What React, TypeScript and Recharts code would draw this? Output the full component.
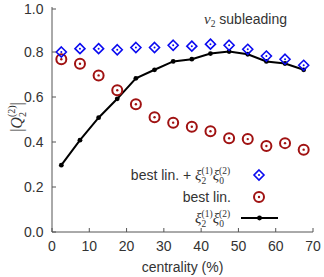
import React from 'react';
import { ComposedChart, Line, XAxis, YAxis, Customized } from 'recharts';

// centrality bins (%)
const centrality = [2.5, 7.5, 12.5, 17.5, 22.5, 27.5, 32.5, 37.5, 42.5, 47.5, 52.5, 57.5, 62.5, 67.5];
// best lin. + xi2(1) xi0(2)
const bestLinPlus = [0.8, 0.815, 0.815, 0.81, 0.82, 0.82, 0.83, 0.826, 0.835, 0.83, 0.812, 0.782, 0.768, 0.741];
// best lin.
const bestLin = [0.768, 0.748, 0.696, 0.63, 0.568, 0.51, 0.486, 0.468, 0.448, 0.417, 0.413, 0.382, 0.395, 0.366];
// xi2(1) xi0(2)
const xiProd = [0.297, 0.408, 0.508, 0.592, 0.683, 0.721, 0.758, 0.768, 0.793, 0.802, 0.79, 0.758, 0.749, 0.721];

const xTicks = [0, 10, 20, 30, 40, 50, 60, 70];
const yTicks = [0, 0.1, 0.2, 0.3, 0.4, 0.5, 0.6, 0.7, 0.8, 0.9, 1.0];

const rows = centrality.map((c, i) => ({
  c,
  plus: bestLinPlus[i],
  lin: bestLin[i],
  xi: xiProd[i],
}));

const FRAME = '#555';
const TEXT = '#333';
const SANS = '"Liberation Sans", Arial, sans-serif';
const SERIF = '"Liberation Serif", "DejaVu Serif", serif';
const BLUE = '#0a0af0';
const RED = '#a01212';
const TICK = 4;

const BottomTick = ({ x, y, payload }: any) => (
  <g>
    <line x1={x} y1={y} x2={x} y2={y - TICK} stroke={FRAME} />
    <text x={x} y={y + 19} textAnchor="middle" fontSize={14} fontFamily={SANS} fill={TEXT}>
      {payload.value}
    </text>
  </g>
);
const TopTick = ({ x, y }: any) => <line x1={x} y1={y} x2={x} y2={y + TICK} stroke={FRAME} />;
const LeftTick = ({ x, y, payload }: any) => (
  <g>
    <line x1={x} y1={y} x2={x + TICK} y2={y} stroke={FRAME} />
    <text x={x - 8.5} y={y + 5} textAnchor="end" fontSize={14} fontFamily={SANS} fill={TEXT}>
      {Number(payload.value).toFixed(1)}
    </text>
  </g>
);
const RightTick = ({ x, y }: any) => <line x1={x} y1={y} x2={x - TICK} y2={y} stroke={FRAME} />;

const Diamond = ({ cx, cy }: { cx: number; cy: number }) => (
  <g>
    <path
      d={`M${cx},${cy - 5}L${cx + 5},${cy}L${cx},${cy + 5}L${cx - 5},${cy}Z`}
      fill="none"
      stroke={BLUE}
      strokeWidth={1.6}
    />
    <circle cx={cx} cy={cy} r={1} fill={BLUE} />
  </g>
);
const Ring = ({ cx, cy }: { cx: number; cy: number }) => (
  <g>
    <circle cx={cx} cy={cy} r={5} fill="none" stroke={RED} strokeWidth={2} />
    <circle cx={cx} cy={cy} r={1.2} fill={RED} />
  </g>
);

const diamondDot = (p: any) => <Diamond key={p.index} cx={p.cx} cy={p.cy} />;
const ringDot = (p: any) => <Ring key={p.index} cx={p.cx} cy={p.cy} />;
const blackDot = (p: any) => <circle key={p.index} cx={p.cx} cy={p.cy} r={2.4} fill="#000" />;

// xi_a^(b) xi_c^(d) with stacked sub/superscripts
const XiPair = () => (
  <>
    <tspan fontFamily={SERIF} fontStyle="italic" fontSize={15}>ξ</tspan>
    <tspan fontFamily={SERIF} fontSize={9.5} dy={-6}>(1)</tspan>
    <tspan fontFamily={SERIF} fontSize={9.5} dx={-11} dy={10}>2</tspan>
    <tspan fontFamily={SERIF} fontStyle="italic" fontSize={15} dx={6.3} dy={-4}>ξ</tspan>
    <tspan fontFamily={SERIF} fontSize={9.5} dy={-6}>(2)</tspan>
    <tspan fontFamily={SERIF} fontSize={9.5} dx={-11} dy={10}>0</tspan>
    <tspan fontSize={9.5} dx={6.3} dy={-4}>{'\u200a'}</tspan>
  </>
);

const Annotations = () => (
  <g fill={TEXT}>
    <text x={204} y={24} fontFamily={SANS} fontSize={14}>
      <tspan fontFamily={SERIF} fontStyle="italic" fontSize={15}>v</tspan>
      <tspan fontFamily={SERIF} fontSize={9.5} dy={3}>2</tspan>
      <tspan dy={-3}> subleading</tspan>
    </text>

    <text x={182.5} y={272} textAnchor="middle" fontFamily={SANS} fontSize={14}>
      centrality (%)
    </text>

    <text transform="rotate(-90, 17, 117)" x={17} y={122} textAnchor="middle" fontSize={16} fontFamily={SERIF}>
      <tspan>|</tspan>
      <tspan fontStyle="italic">Q</tspan>
      <tspan fontSize={10} dy={-7}>(2)</tspan>
      <tspan fontSize={10} dx={-11.7} dy={11}>2</tspan>
      <tspan dx={6.7} dy={-4}>|</tspan>
    </text>

    <text x={231} y={180} textAnchor="end" fontFamily={SANS} fontSize={14}>
      <tspan>best lin. + </tspan>
      <XiPair />
    </text>
    <Diamond cx={259} cy={175} />

    <text x={231} y={202} textAnchor="end" fontFamily={SANS} fontSize={14}>
      best lin.
    </text>
    <Ring cx={259} cy={197} />

    <text x={231} y={223} textAnchor="end" fontFamily={SANS} fontSize={14}>
      <XiPair />
    </text>
    <line x1={241} y1={218} x2={278} y2={218} stroke="#000" strokeWidth={2} />
    <circle cx={259.5} cy={218} r={2.4} fill="#000" />
  </g>
);

export default function App() {
  return (
    <div style={{ position: 'absolute', left: 0, top: 0 }}>
      <ComposedChart width={324} height={277} data={rows} margin={{ top: 7, right: 11, bottom: 0, left: 0 }}>
        <XAxis
          dataKey="c"
          type="number"
          domain={[0, 70]}
          ticks={xTicks}
          height={45}
          tickSize={0}
          tickMargin={0}
          tick={<BottomTick />}
          axisLine={{ stroke: FRAME }}
        />
        <XAxis
          xAxisId="top"
          orientation="top"
          type="number"
          domain={[0, 70]}
          ticks={xTicks}
          height={0}
          tickSize={0}
          tickMargin={0}
          tick={<TopTick />}
          axisLine={{ stroke: FRAME }}
        />
        <YAxis
          type="number"
          domain={[0, 1]}
          ticks={yTicks}
          width={52}
          tickSize={0}
          tickMargin={0}
          tick={<LeftTick />}
          axisLine={{ stroke: FRAME }}
        />
        <YAxis
          yAxisId="r"
          orientation="right"
          type="number"
          domain={[0, 1]}
          ticks={yTicks}
          width={0}
          tickSize={0}
          tickMargin={0}
          tick={<RightTick />}
          axisLine={{ stroke: FRAME }}
        />
        <Line
          dataKey="xi"
          stroke="#000"
          strokeWidth={2}
          dot={blackDot}
          activeDot={false}
          isAnimationActive={false}
        />
        <Line
          dataKey="lin"
          stroke="none"
          dot={ringDot}
          activeDot={false}
          isAnimationActive={false}
        />
        <Line
          dataKey="plus"
          stroke="none"
          dot={diamondDot}
          activeDot={false}
          isAnimationActive={false}
        />
        <Customized component={Annotations} />
      </ComposedChart>
    </div>
  );
}
